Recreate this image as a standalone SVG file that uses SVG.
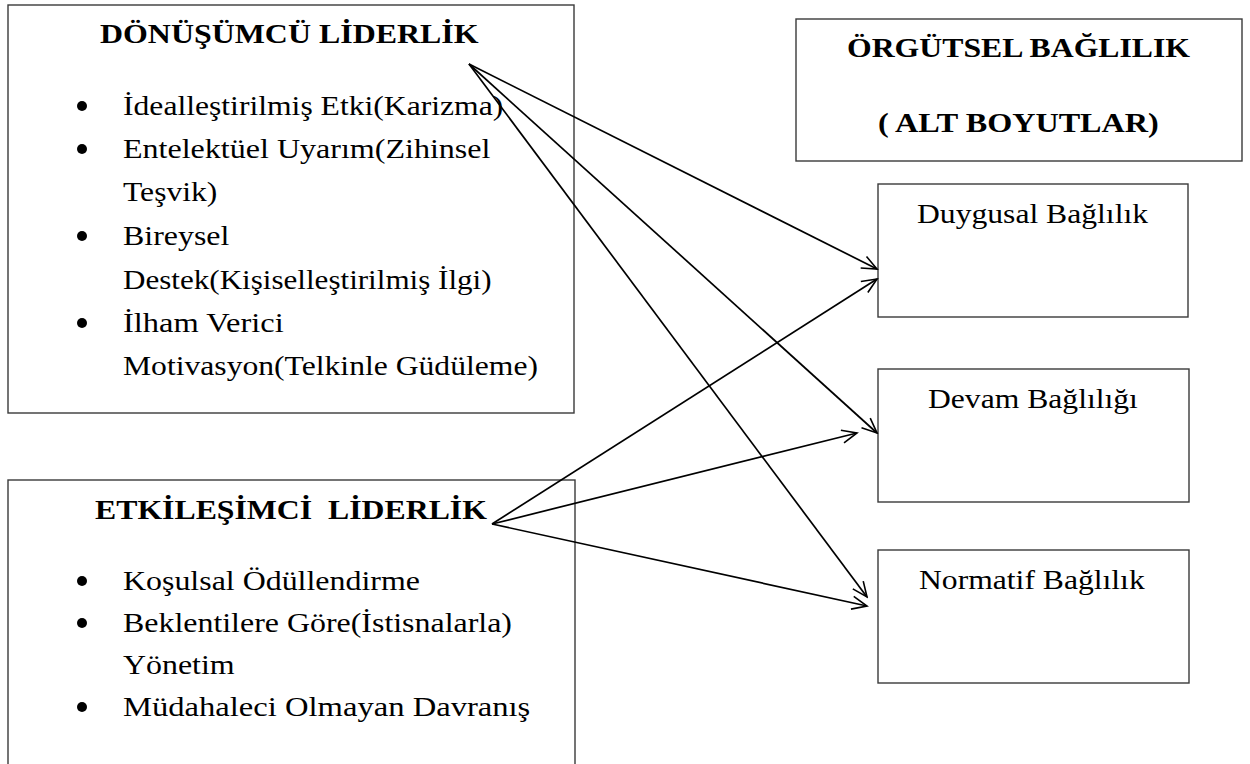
<svg xmlns="http://www.w3.org/2000/svg" width="1250" height="764" viewBox="0 0 1250 764">
<defs>
<style>
.box{fill:#fff;stroke:#3a3a3a;stroke-width:1.4}
.t{font-family:'Liberation Serif','Times New Roman',serif;font-size:28px;fill:#000}
.b{font-family:'Liberation Serif','Times New Roman',serif;font-size:28px;font-weight:bold;fill:#000;white-space:pre}
.dot{fill:#000}
.con line{stroke:#000;stroke-width:1.7;fill:none}
</style>
<marker id="arr" viewBox="-17 -8 19 16" refX="0" refY="0" markerWidth="19" markerHeight="16" markerUnits="userSpaceOnUse" orient="auto">
<path d="M-15,-6.5 L0,0 L-15,6.5" fill="none" stroke="#000" stroke-width="1.6"/>
</marker>
</defs>
<rect width="1250" height="764" fill="#fff"/>

<g id="donusumcu">
<rect class="box" x="8" y="5" width="566" height="408"/>
<text class="b" transform="translate(100,43) scale(1.14,1)">DÖNÜŞÜMCÜ LİDERLİK</text>
<circle class="dot" cx="82" cy="106" r="5"/>
<text class="t" transform="translate(123,115) scale(1.13,1)">İdealleştirilmiş Etki(Karizma)</text>
<circle class="dot" cx="82" cy="149" r="5"/>
<text class="t" transform="translate(123,158) scale(1.145,1)">Entelektüel Uyarım(Zihinsel</text>
<text class="t" transform="translate(123,201) scale(1.13,1)">Teşvik)</text>
<circle class="dot" cx="82" cy="236" r="5"/>
<text class="t" transform="translate(123,245) scale(1.14,1)">Bireysel</text>
<text class="t" transform="translate(123,289) scale(1.11,1)">Destek(Kişiselleştirilmiş İlgi)</text>
<circle class="dot" cx="82" cy="323" r="5"/>
<text class="t" transform="translate(123,332) scale(1.16,1)">İlham Verici</text>
<text class="t" transform="translate(123,375) scale(1.13,1)">Motivasyon(Telkinle Güdüleme)</text>
</g>

<g id="etkilesimci">
<rect class="box" x="8" y="480" width="567" height="300"/>
<text class="b" transform="translate(95,519) scale(1.135,1)">ETKİLEŞİMCİ  LİDERLİK</text>
<circle class="dot" cx="82" cy="581" r="5"/>
<text class="t" transform="translate(123,590) scale(1.14,1)">Koşulsal Ödüllendirme</text>
<circle class="dot" cx="82" cy="623" r="5"/>
<text class="t" transform="translate(123,632) scale(1.14,1)">Beklentilere Göre(İstisnalarla)</text>
<text class="t" transform="translate(123,674) scale(1.14,1)">Yönetim</text>
<circle class="dot" cx="82" cy="707" r="5"/>
<text class="t" transform="translate(123,716) scale(1.165,1)">Müdahaleci Olmayan Davranış</text>
</g>

<g id="orgutsel">
<rect class="box" x="796" y="19" width="446" height="142"/>
<text class="b" transform="translate(847,57) scale(1.134,1)">ÖRGÜTSEL BAĞLILIK</text>
<text class="b" transform="translate(878,132) scale(1.15,1)">( ALT BOYUTLAR)</text>
</g>

<g id="duygusal">
<rect class="box" x="878" y="184" width="310" height="133"/>
<text class="t" transform="translate(917,223) scale(1.13,1)">Duygusal Bağlılık</text>
</g>

<g id="devam">
<rect class="box" x="878" y="369" width="311" height="133"/>
<text class="t" transform="translate(928,408) scale(1.13,1)">Devam Bağlılığı</text>
</g>

<g id="normatif">
<rect class="box" x="878" y="550" width="311" height="133"/>
<text class="t" transform="translate(919,589) scale(1.13,1)">Normatif Bağlılık</text>
</g>

<g id="connectors" class="con">
<line x1="469" y1="64" x2="877" y2="269" marker-end="url(#arr)"/>
<line x1="469" y1="64" x2="877" y2="433" marker-end="url(#arr)"/>
<line x1="469" y1="64" x2="867" y2="597" marker-end="url(#arr)"/>
<line x1="492" y1="524" x2="877" y2="279" marker-end="url(#arr)"/>
<line x1="492" y1="524" x2="857" y2="433" marker-end="url(#arr)"/>
<line x1="492" y1="524" x2="867" y2="606" marker-end="url(#arr)"/>
</g>
</svg>
